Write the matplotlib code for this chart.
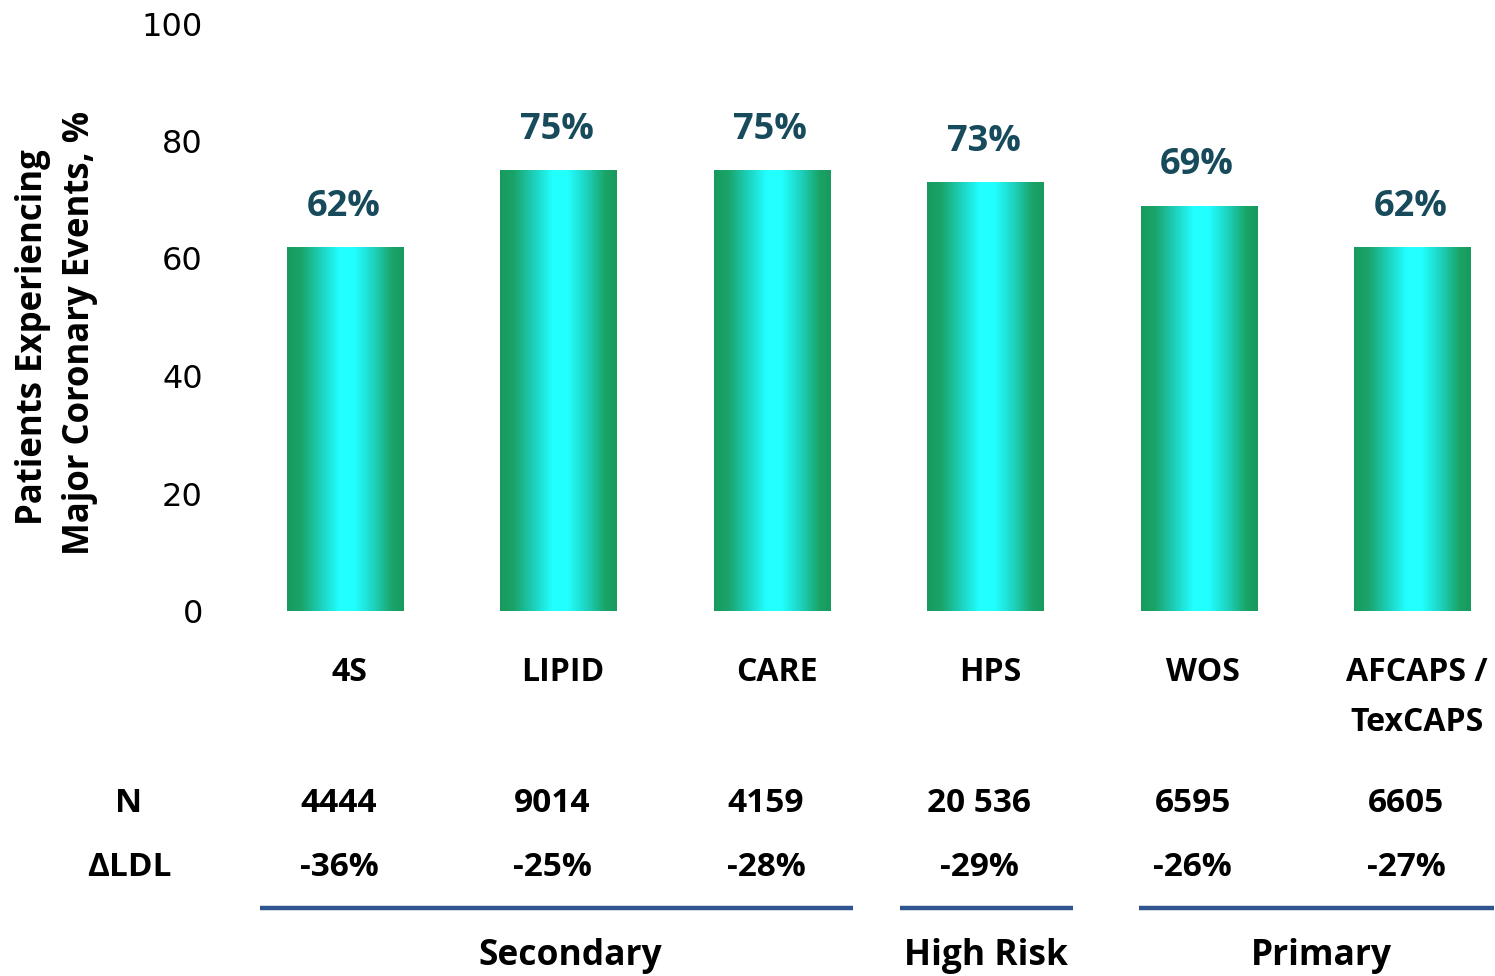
import numpy as np
import matplotlib
matplotlib.use("Agg")
import matplotlib.pyplot as plt
from matplotlib.colors import LinearSegmentedColormap

plt.rcParams['font.family'] = ['Open Sans', 'DejaVu Sans']

# trial data
trials = ["4S", "LIPID", "CARE", "HPS", "WOS", "AFCAPS /\nTexCAPS"]
events = [62, 75, 75, 73, 69, 62]
n_patients = ["4444", "9014", "4159", "20 536", "6595", "6605"]
ldl_change = ["-36%", "-25%", "-28%", "-29%", "-26%", "-27%"]

groups = ["Secondary", "High Risk", "Primary"]
group_first = [0, 3, 4]
group_last = [2, 3, 5]
group_pad_left = [0.40, 0.40, 0.28]
group_pad_right = [0.38, 0.41, 0.38]
group_label_x = [1.052, 3.0, 4.575]

yticks = [0, 20, 40, 60, 80, 100]

fig = plt.figure(figsize=(14.95, 9.76), dpi=100)
ax = fig.add_axes([225 / 1495, 365 / 976, 1265 / 1495, 587.5 / 976])

x = np.arange(len(trials))
bars = ax.bar(x, events, width=0.548, color="none", edgecolor="none")

# horizontal green -> cyan -> green gradient for every bar
cmap = LinearSegmentedColormap.from_list(
    "grad", [(0.0, "#189a5e"), (0.12, "#1aa46a"), (0.3, "#1dd3c0"),
             (0.45, "#22ffff"), (0.58, "#22ffff"), (0.75, "#1dd0bc"),
             (0.9, "#1aa468"), (1.0, "#189a5e")])
grad = np.linspace(0, 1, 256).reshape(1, -1)
for b in bars:
    x0, w, h = b.get_x(), b.get_width(), b.get_height()
    im = ax.imshow(grad, cmap=cmap, aspect="auto",
                   extent=(x0, x0 + w, 0, h), zorder=2)
    im.set_clip_path(b)

for xi, v in zip(x, events):
    ax.text(xi - 0.01, v + 5.3, f"{v}%", ha="center", va="baseline",
            fontsize=26, fontweight="bold", color="#174b5c")

ax.set_xlim(-0.5647, 5.363)
ax.set_ylim(0, 100)
ax.set_yticks(yticks)
ax.tick_params(axis="y", length=0, pad=16)
for lbl in ax.get_yticklabels():
    lbl.set_fontfamily("DejaVu Sans")
    lbl.set_fontsize(23)
ax.set_xticks([])
for s in ax.spines.values():
    s.set_visible(False)

# category names under the bars, one text per line
for xi, t in zip(x, trials):
    for k, line in enumerate(t.split("\n")):
        ax.text(xi + 0.02, -10.4 - 8.5 * k, line, ha="center", va="center",
                fontsize=23, fontweight="bold")

# N and LDL rows
ax.text(-1.015, -32.8, "N", ha="center", va="center", fontsize=24,
        fontweight="bold", clip_on=False)
ax.text(-1.015, -43.7, "\u0394LDL", ha="center", va="center", fontsize=24,
        fontweight="bold", clip_on=False)
for xi, n, d in zip(x, n_patients, ldl_change):
    ax.text(xi - 0.03, -32.8, n, ha="center", va="center", fontsize=24,
            fontweight="bold")
    ax.text(xi - 0.03, -43.7, d, ha="center", va="center", fontsize=24,
            fontweight="bold")

# study population brackets
for g, a, b, pl, pr, lx in zip(groups, group_first, group_last,
                               group_pad_left, group_pad_right, group_label_x):
    ax.plot([a - pl, b + pr], [-50.6, -50.6], color="#2f5490", lw=3.2,
            clip_on=False, solid_capstyle="butt")
    ax.text(lx, -58.7, g, ha="center", va="center", fontsize=25.5,
            fontweight="bold", clip_on=False)

fig.text(33 / 1495, 1 - 337 / 976, "Patients Experiencing", rotation=90,
         ha="center", va="center", fontsize=25, fontweight="bold")
fig.text(80 / 1495, 1 - 333 / 976, "Major Coronary Events, %", rotation=90,
         ha="center", va="center", fontsize=25, fontweight="bold")

fig.savefig("out.png", dpi=100)
